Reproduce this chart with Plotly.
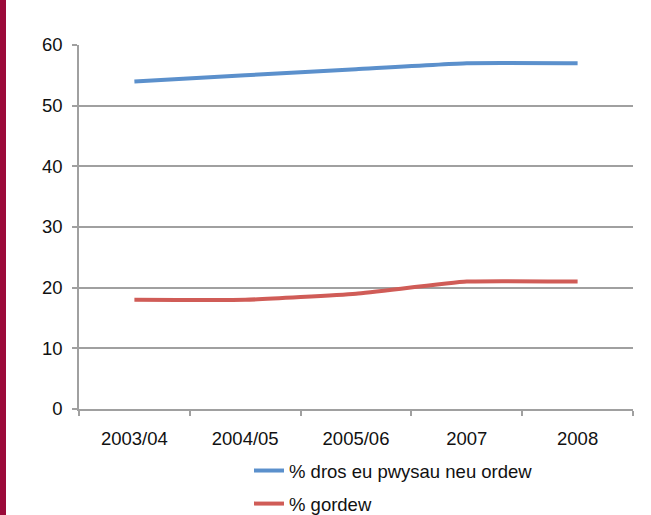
import plotly.graph_objects as go

# Survey years and percentages
years = ["2003/04", "2004/05", "2005/06", "2007", "2008"]
overweight_or_obese = [54, 55, 56, 57, 57]
obese = [18, 18, 19, 21, 21]

series_names = ["% dros eu pwysau neu ordew", "% gordew"]
series_colors = ["#5b90cc", "#d05c57"]

W, H = 651, 515
ML, MR, MT, MB = 79, 18, 45, 106
plot_w = W - ML - MR
plot_h = H - MT - MB

fig = go.Figure()
for i, (name, vals, col) in enumerate(zip(series_names, [overweight_or_obese, obese], series_colors)):
    fig.add_trace(go.Scatter(
        x=years, y=vals, name=name, mode="lines",
        line=dict(color=col, width=4, shape="spline", smoothing=0.4),
        legendgroup=f"g{i}",
    ))

axis_gray = "#a0a0a0"
font_family = "Liberation Sans, Arial, sans-serif"
fs = 18.5

fig.update_layout(
    width=W, height=H,
    margin=dict(l=ML, r=MR, t=MT, b=MB, autoexpand=False),
    paper_bgcolor="white", plot_bgcolor="white",
    font=dict(family=font_family, size=fs, color="#111111"),
    showlegend=True,
    legend=dict(
        orientation="v",
        xref="container", yref="container",
        x=249 / W, xanchor="left",
        y=1 - 452 / H, yanchor="top",
        tracegroupgap=6,
        font=dict(size=fs, color="#111111"),
        bgcolor="rgba(0,0,0,0)",
    ),
    xaxis=dict(
        type="category",
        range=[-0.5, len(years) - 0.5],
        automargin=False,
        showgrid=False,
        showline=True, linecolor=axis_gray, linewidth=1.5,
        ticks="outside", tickson="boundaries", ticklen=5,
        tickcolor=axis_gray, tickwidth=1.5,
        ticklabelstandoff=12,
    ),
    yaxis=dict(
        range=[0, 60], dtick=10,
        automargin=False,
        showgrid=True, gridcolor=axis_gray, gridwidth=1.5,
        zeroline=False,
        showline=True, linecolor=axis_gray, linewidth=1.5,
        ticks="outside", ticklen=5, tickcolor=axis_gray, tickwidth=1.5,
        ticklabelstandoff=6,
    ),
)

# Maroon band along the left edge of the page
fig.add_shape(
    type="rect", xref="paper", yref="paper",
    x0=-ML / plot_w, x1=(6 - ML) / plot_w,
    y0=-MB / plot_h, y1=(plot_h + MT) / plot_h,
    fillcolor="#9b0a3a", line=dict(width=0), layer="below",
)

fig.write_html("out.html")
